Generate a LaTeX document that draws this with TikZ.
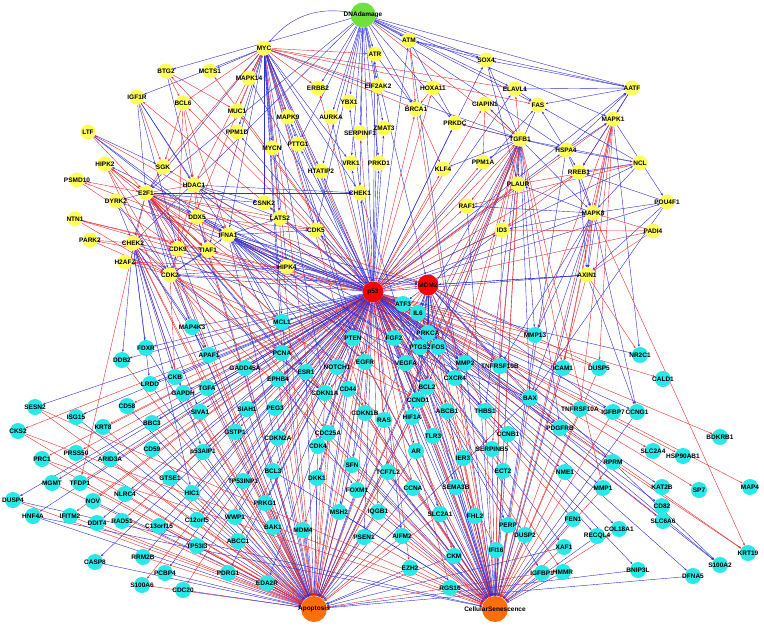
\documentclass[tikz,border=0pt]{standalone}
\usepackage{fontspec}
\usepackage{tikz}
\usetikzlibrary{arrows.meta,backgrounds}
\newfontfamily\genefont{Liberation Sans}
\definecolor{geneyellow}{RGB}{255, 255, 90}
\definecolor{genecyan}{RGB}{40, 232, 232}
\definecolor{dnagreen}{RGB}{110, 225, 60}
\definecolor{hubred}{RGB}{255, 0, 0}
\definecolor{outorange}{RGB}{255, 110, 10}
\definecolor{edgeblue}{RGB}{45, 45, 215}
\definecolor{edgered}{RGB}{235, 45, 45}

\begin{document}
\begin{tikzpicture}[
    x=1pt, y=-1pt,
    yel/.style={circle, fill=geneyellow, minimum size=15pt, inner sep=0pt},
    cya/.style={circle, fill=genecyan, minimum size=16pt, inner sep=0pt},
    hub/.style={circle, minimum size=21pt, inner sep=0pt},
    lbl/.style={font=\genefont\bfseries\fontsize{6.5}{7}\selectfont, inner sep=0pt},
    bl/.style={draw=edgeblue, line width=0.4pt, -{Stealth[length=2.6pt, width=2pt]}},
    rd/.style={draw=edgered, line width=0.4pt, -{Stealth[length=2.6pt, width=2pt]}}
]
    \useasboundingbox (0,0) rectangle (764,630);

    % Stimulus, core and outcome nodes
    \node[hub, fill=dnagreen, minimum size=25pt, label={[lbl]center:DNAdamage}] (DNAdamage) at (363,15) {};
    \node[hub, fill=hubred, label={[lbl]center:p53}] (p53) at (373,292) {};
    \node[hub, fill=hubred, label={[lbl]center:MDM2}] (MDM2) at (428,285) {};
    \node[hub, fill=outorange, minimum size=26pt, label={[lbl]center:Apoptosis}] (Apoptosis) at (314,609) {};
    \node[hub, fill=outorange, minimum size=26pt, label={[lbl]center:CellularSenescence}] (CellSen) at (495,609) {};

    % Upstream regulators (yellow)
    \foreach \n/\x/\y in {
        MYC/264/48, ATR/375/54, ATM/409/40, SOX4/486/60, BTG2/166/71, MCTS1/210/71,
        MAPK14/249/78, ERBB2/318/88, EIF2AK2/378/86, HOXA11/433/88, ELAVL1/515/89,
        AATF/632/88, IGF1R/137/97, BCL6/183/103, YBX1/349/102, CIAPIN1/485/104,
        FAS/538/105, MAPK1/613/119, MUC1/237/111, MAPK9/288/117, AURKA/331/117,
        BRCA1/416/109, ZMAT3/384/128, PPM1D/237/132, SERPINF1/360/133, PRKDC/455/123,
        LTF/88/132, MYCN/272/148, PTTG1/298/144, TGFB1/520/139, HSPA4/566/150,
        NCL/640/163, HIPK2/105/164, SGK/163/167, VRK1/351/163, PRKD1/379/163,
        PPM1A/483/162, KLF4/443/169, HTATIP2/321/171, RREB1/579/172, PSMD10/77/180,
        HDAC1/194/185, CHEK1/360/193, PLAUR/518/184, E2F1/146/193, DYRK2/116/201,
        CSNK2/264/203, RAF1/467/206, POU4F1/667/202, MAPK8/593/213, PADI4/653/231,
        NTN1/75/219, DDX5/197/217, LATS2/280/218, ID3/502/230, IFNA1/228/235,
        CDK5/316/230, PARK2/90/240, CHEK2/133/243, CDK9/178/249, TIAF1/208/250,
        H2AFZ/125/262, CDK2/170/275, HIPK4/287/267, AXIN1/587/275} {
        \node[yel, label={[lbl]center:\n}] (\n) at (\x,\y) {};
    }

    % Downstream targets (cyan)
    \foreach \n/\x/\y in {
        ATF3/403/304, IL6/418/313, MCL1/282/322, MAP4K3/192/327, PTEN/353/338,
        FGF2/394/338, PRKCA/428/333, PTGS2/420/347, FOS/438/347, MMP13/535/335,
        FDXR/146/348, APAF1/209/355, PCNA/282/353, EGFR/365/362, VEGFA/406/363,
        MMP2/465/363, TNFRSF10B/500/366, ICAM1/563/368, DUSP5/599/368, NR2C1/640/355,
        CALD1/663/379, DDB2/122/360, GADD45A/245/368, NOTCH1/337/367, ESR1/306/372,
        EPHB4/278/379, CKB/175/377, LRDD/150/384, CXCR4/455/378, TGFA/207/388,
        GAPDH/183/393, CDKN1A/325/393, CD44/348/389, BCL2/427/387, BAX/530/398,
        CCND1/418/400, SESN2/35/407, CD58/127/406, SIVA1/200/412, SIAH1/247/409,
        PEG3/275/408, CDKN1B/365/413, RAS/384/420, HIF1A/412/417, ABCB1/447/411,
        THBS1/485/411, TNFRSF10A/580/409, IGFBP7/613/412, CCNG1/637/412, BDKRB1/720/437,
        ISG15/76/417, KRT8/103/427, BBC3/152/423, CKS2/18/431, p53AIP1/203/452,
        GSTP1/235/432, CDKN2A/278/438, CDC25A/328/433, CDK4/318/446, PRSS50/76/453,
        PRC1/42/459, ARID3A/110/459, CD59/152/449, SFN/352/465, TCF7L2/388/472,
        AR/416/451, TLR3/433/436, CCNB1/508/434, PDGFRB/560/428, SERPINB5/492/449,
        IER3/463/458, ECT2/503/471, NME1/565/472, RPRM/613/462, SLC2A4/653/451,
        HSP90AB1/683/456, SP7/699/490, MAP4/750/487, KAT2B/662/487, MGMT/52/483,
        TFDP1/80/483, GTSE1/170/478, HIC1/192/493, TP53INP1/243/481, BCL3/273/471,
        DKK1/317/478, FOXM1/357/490, NLRC4/125/494, DUSP4/13/500, NOV/93/501,
        SEMA3B/456/487, CCNA/413/488, PRKG1/265/503, MSH2/339/512, IQGB1/378/512,
        SLC2A1/440/514, FHL2/475/516, MMP1/603/488, CD82/662/506, SLC6A6/663/521,
        FEN1/573/519, HNF4A/33/516, IFITM2/70/516, DDIT4/97/523, RAD51/122/521,
        C13orf15/159/526, C12orf5/197/520, WWP1/235/517, BAK1/273/527, MDM4/303/530,
        PERP/508/525, DUSP2/525/535, RECQL4/597/536, COL18A1/619/529, TP53I3/197/546,
        ABCC1/238/541, PSEN1/364/537, AIFM2/402/536, IFI16/496/550, XAF1/564/547,
        CASP8/95/562, RRM2B/143/557, CKM/454/556, EZH2/410/568, IGFBP1/542/573,
        HMMR/563/572, BNIP3L/638/570, DFNA5/693/576, S100A2/720/565, KRT19/748/553,
        PCBP4/165/573, PDRG1/228/573, EDA2R/267/583, S100A6/142/585, CDC20/183/590,
        RGS16/450/588} {
        \node[cya, label={[lbl]center:\n}] (\n) at (\x,\y) {};
    }

    \begin{scope}[on background layer]
    % p53 to every gene
    \foreach \t/\s in {
        MYC/rd, ATR/bl, ATM/bl, SOX4/bl, BTG2/rd, MCTS1/rd, MAPK14/bl, ERBB2/rd, EIF2AK2/bl,
        HOXA11/rd, ELAVL1/bl, AATF/bl, IGF1R/rd, BCL6/rd, YBX1/bl, CIAPIN1/rd, FAS/bl,
        MAPK1/rd, MUC1/rd, MAPK9/bl, AURKA/bl, BRCA1/rd, ZMAT3/bl, PPM1D/bl, SERPINF1/rd,
        PRKDC/bl, LTF/rd, MYCN/bl, PTTG1/bl, TGFB1/rd, HSPA4/bl, NCL/bl, HIPK2/bl, SGK/rd,
        VRK1/bl, PRKD1/bl, PPM1A/rd, KLF4/rd, HTATIP2/bl, RREB1/rd, PSMD10/rd, HDAC1/bl,
        CHEK1/bl, PLAUR/rd, E2F1/bl, DYRK2/bl, CSNK2/bl, RAF1/rd, POU4F1/bl, MAPK8/bl,
        PADI4/rd, NTN1/rd, DDX5/bl, LATS2/bl, ID3/rd, IFNA1/bl, CDK5/bl, PARK2/rd, CHEK2/bl,
        CDK9/rd, TIAF1/rd, H2AFZ/rd, CDK2/bl, HIPK4/bl, AXIN1/bl, MDM2/rd,
        ATF3/bl, IL6/rd, MCL1/bl, MAP4K3/bl, PTEN/rd, FGF2/bl, PRKCA/rd, PTGS2/bl, FOS/rd,
        MMP13/rd, FDXR/bl, APAF1/bl, PCNA/bl, EGFR/rd, VEGFA/bl, MMP2/bl, TNFRSF10B/bl,
        ICAM1/rd, DUSP5/rd, NR2C1/bl, CALD1/rd, DDB2/bl, GADD45A/bl, NOTCH1/rd, ESR1/rd,
        EPHB4/bl, CKB/bl, LRDD/bl, CXCR4/bl, TGFA/rd, GAPDH/bl, CDKN1A/bl, CD44/rd, BCL2/rd,
        BAX/bl, CCND1/rd, SESN2/bl, CD58/rd, SIVA1/bl, SIAH1/bl, PEG3/rd, CDKN1B/bl, RAS/rd,
        HIF1A/bl, ABCB1/rd, THBS1/bl, TNFRSF10A/rd, IGFBP7/bl, CCNG1/bl, BDKRB1/rd, ISG15/bl,
        KRT8/rd, BBC3/bl, CKS2/rd, p53AIP1/bl, GSTP1/rd, CDKN2A/bl, CDC25A/rd, CDK4/bl,
        PRSS50/rd, PRC1/rd, ARID3A/bl, CD59/rd, SFN/bl, TCF7L2/rd, AR/bl, TLR3/rd, CCNB1/rd,
        PDGFRB/bl, SERPINB5/bl, IER3/rd, ECT2/rd, NME1/bl, RPRM/bl, SLC2A4/rd, HSP90AB1/rd,
        SP7/rd, MAP4/rd, KAT2B/bl, MGMT/bl, TFDP1/rd, GTSE1/bl, HIC1/bl, TP53INP1/bl, BCL3/rd,
        DKK1/bl, FOXM1/rd, NLRC4/bl, DUSP4/bl, NOV/rd, SEMA3B/bl, CCNA/rd, PRKG1/bl, MSH2/bl,
        IQGB1/rd, SLC2A1/bl, FHL2/rd, MMP1/bl, CD82/bl, SLC6A6/rd, FEN1/rd, HNF4A/bl,
        IFITM2/rd, DDIT4/bl, RAD51/rd, C13orf15/bl, C12orf5/bl, WWP1/bl, BAK1/bl, MDM4/rd,
        PERP/bl, DUSP2/rd, RECQL4/bl, COL18A1/bl, TP53I3/bl, ABCC1/rd, PSEN1/bl, AIFM2/bl,
        IFI16/rd, XAF1/bl, CASP8/bl, RRM2B/bl, CKM/rd, EZH2/rd, IGFBP1/bl, HMMR/rd,
        BNIP3L/bl, DFNA5/bl, S100A2/bl, KRT19/rd, PCBP4/bl, PDRG1/bl, EDA2R/bl, S100A6/rd,
        CDC20/rd, RGS16/rd}
        \draw[\s] (p53) -- (\t);

    % genes feeding apoptosis
    \foreach \t/\s in {
        HNF4A/bl, IFITM2/rd, DUSP4/rd, DDIT4/rd, RAD51/rd, C13orf15/bl, C12orf5/rd,
        TP53I3/rd, CASP8/bl, RRM2B/rd, PCBP4/bl, S100A6/rd, CDC20/bl, PDRG1/bl, EDA2R/bl,
        ABCC1/rd, WWP1/bl, BAK1/rd, MDM4/bl, PRKG1/rd, TP53INP1/bl, BCL3/rd, DKK1/bl,
        MSH2/rd, FOXM1/bl, SFN/rd, CDK4/bl, CDC25A/rd, CDKN2A/bl, GSTP1/rd, p53AIP1/bl,
        HIC1/rd, NLRC4/rd, GTSE1/bl, NOV/bl, MGMT/rd, TFDP1/rd, ARID3A/rd, PRSS50/bl,
        PRC1/rd, CD59/bl, BBC3/rd, KRT8/rd, ISG15/bl, CKS2/rd, SESN2/rd, CD58/bl, SIVA1/rd,
        SIAH1/bl, PEG3/rd, TGFA/bl, GAPDH/rd, LRDD/bl, CKB/rd, APAF1/rd, GADD45A/bl,
        EPHB4/rd, ESR1/bl, PCNA/rd, MCL1/bl, CDKN1A/rd, CD44/bl, NOTCH1/rd, PTEN/bl,
        EGFR/rd, CDKN1B/bl, RAS/rd, BCL2/rd, BAX/bl, CCND1/bl, HIF1A/rd, AR/bl, TCF7L2/rd,
        PSEN1/bl, IQGB1/rd, AIFM2/rd, EZH2/bl, CKM/bl, SLC2A1/rd, CCNA/bl, BNIP3L/bl,
        DFNA5/bl, IGFBP1/rd, XAF1/bl, p53/rd, MDM2/bl, E2F1/rd, CDK2/bl, CHEK2/rd,
        IFNA1/bl, MYC/rd, TGFB1/rd, FAS/bl, HIPK2/rd, DDX5/bl, TIAF1/rd, CDK9/bl,
        FDXR/bl, DDB2/rd, MAP4K3/bl}
        \draw[\s] (\t) -- (Apoptosis);

    % genes feeding senescence
    \foreach \t/\s in {
        p53/bl, MDM2/rd, MYC/bl, TGFB1/rd, MAPK1/rd, HSPA4/bl, PLAUR/rd, RAF1/bl, ID3/rd,
        MAPK8/bl, AXIN1/rd, ATF3/bl, IL6/rd, FGF2/bl, PRKCA/rd, PTGS2/bl, FOS/rd, MMP13/bl,
        VEGFA/rd, MMP2/bl, TNFRSF10B/rd, ICAM1/bl, CXCR4/rd, BCL2/bl, BAX/rd, CCND1/rd,
        ABCB1/bl, THBS1/rd, HIF1A/bl, RAS/bl, CDKN1B/rd, CDKN1A/bl, TLR3/rd, CCNB1/bl,
        PDGFRB/rd, SERPINB5/bl, IER3/rd, ECT2/bl, NME1/rd, SEMA3B/bl, CCNA/rd, TCF7L2/bl,
        AR/rd, SLC2A1/bl, FHL2/bl, PERP/rd, DUSP2/bl, IFI16/bl, CKM/rd, EZH2/rd, RGS16/bl,
        AIFM2/rd, FEN1/bl, XAF1/rd, HMMR/bl, IGFBP1/bl, RECQL4/bl, COL18A1/rd, MMP1/rd,
        RPRM/bl, TNFRSF10A/rd, IGFBP7/rd, CCNG1/bl, DUSP5/rd, SESN2/rd, CKS2/rd, PRC1/rd,
        DUSP4/bl, HNF4A/bl, SFN/bl, FOXM1/rd, MSH2/bl, IQGB1/bl, PSEN1/rd, CDK4/rd,
        CDC25A/bl, BCL3/bl, DKK1/rd, EGFR/bl, PTEN/rd, CD44/rd, NOTCH1/bl, ESR1/rd,
        E2F1/bl, CDK2/rd, CHEK1/bl, BRCA1/rd, ATM/bl}
        \draw[\s] (\t) -- (CellSen);

    % DNA damage sensors
    \draw[bl, bend right=30] (DNAdamage) to (MYC);
    \foreach \t/\s in {
        ATR/bl, ATM/bl, SOX4/bl, AATF/bl, MAPK1/bl, ERBB2/bl, EIF2AK2/bl, YBX1/bl, BRCA1/bl,
        CHEK1/bl, BTG2/bl, AURKA/bl, PRKDC/bl, ELAVL1/bl, ZMAT3/bl, SERPINF1/bl, VRK1/bl,
        PRKD1/bl, FAS/bl, HSPA4/bl, HTATIP2/bl, MDM2/bl, CHEK2/bl, E2F1/bl, TGFB1/rd,
        PTTG1/bl, CDK5/bl, p53/bl}
        \draw[\s] (DNAdamage) -- (\t);

    % MYC
    \foreach \t/\s in {
        MCTS1/bl, MAPK14/bl, MUC1/rd, PPM1D/bl, MYCN/bl, PTTG1/bl, MAPK9/rd, HTATIP2/bl,
        CSNK2/bl, HDAC1/rd, LATS2/bl, CDK5/bl, HIPK4/bl, CHEK1/bl, CDK4/rd, CCND1/bl,
        CDKN1A/bl, CDKN1B/rd, PCNA/bl, MCL1/bl, ERBB2/rd, EIF2AK2/rd, BRCA1/rd, ELAVL1/rd,
        FAS/rd, TGFB1/bl, BCL6/rd, IGF1R/bl, SGK/rd, E2F1/bl, ATR/rd, VRK1/bl, EGFR/bl,
        PTEN/bl, IFNA1/bl, CDK2/rd, TIAF1/bl}
        \draw[\s] (MYC) -- (\t);

    % TGFB1
    \foreach \t/\s in {
        PPM1A/bl, PLAUR/bl, RAF1/rd, ID3/rd, MMP13/bl, MMP2/rd, TNFRSF10B/bl, ICAM1/rd,
        BAX/bl, CXCR4/rd, THBS1/bl, FOS/rd, PTGS2/bl, VEGFA/rd, IL6/bl, CCND1/rd, BCL2/bl,
        KLF4/bl, PRKDC/rd, SERPINB5/rd, PDGFRB/bl, MMP1/rd, CIAPIN1/bl, HSPA4/bl,
        MAPK8/bl, ELAVL1/rd, SOX4/bl}
        \draw[\s] (TGFB1) -- (\t);

    % right-hand kinases
    \foreach \a/\b/\s in {
        HSPA4/MAPK1/bl, HSPA4/AATF/bl, HSPA4/RREB1/bl, HSPA4/MAPK8/bl, HSPA4/NCL/bl,
        HSPA4/FAS/bl, MAPK1/RREB1/rd, MAPK1/MAPK8/rd, MAPK1/TNFRSF10A/rd, MAPK1/NR2C1/bl,
        MAPK1/POU4F1/bl, MAPK1/MMP13/rd, MAPK1/DUSP5/rd, MAPK1/AXIN1/bl, MAPK1/ICAM1/rd,
        AATF/MAPK1/bl, AATF/FAS/bl, AATF/ELAVL1/bl, AATF/SOX4/bl, AATF/ATM/bl,
        AATF/RREB1/bl, NCL/RREB1/bl, NCL/TGFB1/bl, NCL/MAPK8/bl, NCL/PLAUR/rd, NCL/RAF1/rd,
        NCL/FAS/bl, POU4F1/RREB1/bl, POU4F1/MAPK8/bl, POU4F1/AXIN1/bl, POU4F1/BAX/bl,
        PADI4/MAPK8/rd, PADI4/AXIN1/rd, PADI4/ID3/rd, MAPK8/ID3/bl, MAPK8/RAF1/bl,
        MAPK8/PLAUR/bl, MAPK8/MMP13/bl, MAPK8/AXIN1/bl, MAPK8/KRT19/rd, MAPK8/BAX/bl,
        MAPK8/TNFRSF10B/bl, MAPK8/ICAM1/rd, MAPK8/CCNG1/bl, AXIN1/CCNG1/bl, AXIN1/MDM2/bl,
        AXIN1/NR2C1/rd, RREB1/MAPK8/bl, RREB1/AXIN1/bl, RREB1/ID3/rd, MMP2/KRT19/rd,
        IL6/S100A2/bl, MDM2/S100A2/bl, ATM/SOX4/bl, ATM/BRCA1/rd, ATM/PRKDC/bl,
        ATR/BRCA1/bl, HOXA11/BRCA1/rd, SOX4/PLAUR/bl, ELAVL1/FAS/bl, CIAPIN1/PPM1A/rd,
        CIAPIN1/TGFB1/rd, BRCA1/KLF4/rd, PRKDC/TGFB1/bl}
        \draw[\s] (\a) -- (\b);

    % left-hand regulators
    \foreach \a/\b/\s in {
        E2F1/SGK/rd, E2F1/HIPK2/rd, E2F1/DYRK2/bl, E2F1/CHEK2/bl, E2F1/CDK9/rd,
        E2F1/CDK2/bl, E2F1/HDAC1/rd, E2F1/DDX5/bl, E2F1/IFNA1/rd, E2F1/TIAF1/rd,
        E2F1/CSNK2/bl, E2F1/LATS2/rd, E2F1/CDK5/rd, E2F1/HIPK4/rd, E2F1/MDM2/rd,
        E2F1/CHEK1/bl, E2F1/PCNA/bl, E2F1/CCND1/rd, E2F1/CDKN1A/rd, E2F1/CCNA/rd,
        E2F1/FOXM1/bl, E2F1/TFDP1/rd, E2F1/BCL2/rd, E2F1/MCL1/rd, E2F1/APAF1/bl,
        E2F1/MAP4K3/bl, E2F1/CDC25A/rd, E2F1/RAS/rd, IGF1R/SGK/rd, IGF1R/E2F1/bl,
        IGF1R/HDAC1/bl, IGF1R/CDK9/bl, IGF1R/IFNA1/bl, LTF/SGK/bl, LTF/E2F1/rd,
        LTF/DDX5/bl, LTF/IFNA1/bl, HIPK2/E2F1/rd, HIPK2/CDK2/rd, HIPK2/CDK9/rd,
        HIPK2/TIAF1/rd, BTG2/BCL6/rd, BTG2/MUC1/rd, BTG2/HDAC1/bl, BCL6/SGK/rd,
        BCL6/HDAC1/rd, BCL6/CDK9/rd, BCL6/IFNA1/rd, PSMD10/E2F1/rd, PSMD10/CDK9/rd,
        DYRK2/CHEK2/bl, DYRK2/CDK2/bl, NTN1/CDK9/rd, NTN1/TIAF1/rd, NTN1/CDK2/rd,
        PARK2/CHEK2/rd, PARK2/CDK2/rd, H2AFZ/CDK2/rd, H2AFZ/HIPK4/rd, CHEK2/CDK2/bl,
        CHEK2/DDB2/bl, CHEK2/FDXR/bl, CHEK2/LRDD/bl, CHEK2/CKB/bl, CHEK2/APAF1/bl,
        CHEK2/GAPDH/rd, CHEK2/TGFA/rd, CHEK2/p53AIP1/bl, CHEK2/SIVA1/bl, CHEK2/HIC1/bl,
        CHEK2/CDKN1A/rd, CHEK2/BAX/bl, CHEK2/MAP4K3/bl, CDK2/CDK9/bl, CDK2/TIAF1/bl,
        CDK2/IFNA1/bl, CDK2/HIPK4/bl, CDK2/MCL1/rd, CDK2/PCNA/rd, CDK2/CDKN1A/bl,
        CDK2/CCND1/rd, CDK2/MDM2/bl, CDK2/GADD45A/rd, CDK2/APAF1/rd, CDK2/CKB/rd,
        IFNA1/LATS2/bl, IFNA1/CDK5/bl, IFNA1/HIPK4/bl, IFNA1/MDM2/bl, IFNA1/ATF3/bl,
        IFNA1/IL6/bl, IFNA1/FGF2/bl, IFNA1/PRKCA/bl, IFNA1/PTEN/bl, IFNA1/EGFR/bl,
        IFNA1/MCL1/bl, IFNA1/PCNA/bl, IFNA1/NOTCH1/bl, IFNA1/ESR1/bl, IFNA1/VEGFA/bl,
        IFNA1/CXCR4/bl, IFNA1/MMP2/bl, IFNA1/BCL2/bl, HDAC1/CSNK2/bl, HDAC1/DDX5/rd,
        HDAC1/TIAF1/rd, HDAC1/CDK9/rd, HDAC1/HIPK4/bl, HDAC1/LATS2/bl, HDAC1/CHEK1/bl,
        DDX5/IFNA1/bl, DDX5/TIAF1/bl, DDX5/CDK5/rd, DDX5/HIPK4/bl, HIPK4/MDM2/bl,
        HIPK4/ATF3/bl}
        \draw[\s] (\a) -- (\b);

    % MDM2 targets
    \foreach \t/\s in {
        ATF3/bl, IL6/bl, FGF2/rd, PRKCA/bl, PTGS2/rd, FOS/bl, VEGFA/bl, MMP2/bl, CXCR4/bl,
        TNFRSF10B/bl, MMP13/bl, AXIN1/bl, ICAM1/rd, BAX/rd, BCL2/bl, CCND1/bl, CDKN1A/rd,
        HIF1A/bl, ABCB1/bl, THBS1/rd, IGFBP7/bl, PDGFRB/bl, DUSP5/rd, ID3/bl}
        \draw[\s] (MDM2) -- (\t);
    \end{scope}
\end{tikzpicture}
\end{document}
